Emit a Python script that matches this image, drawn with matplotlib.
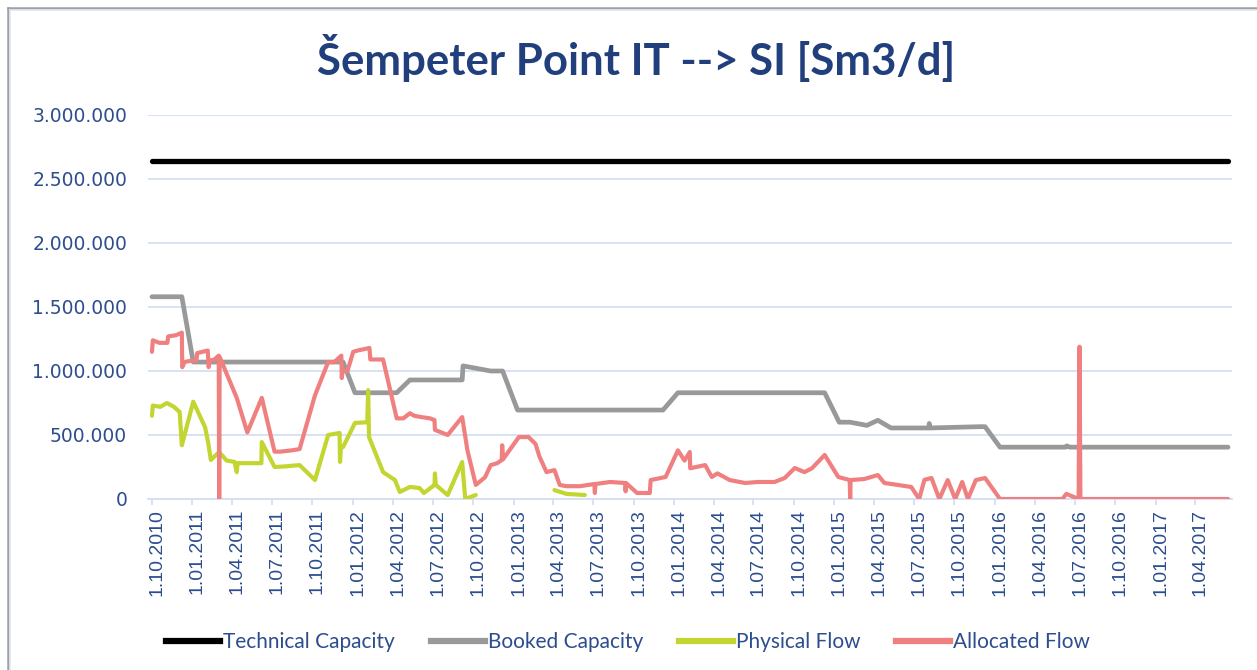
import numpy as np
import pandas as pd
import matplotlib
matplotlib.use("Agg")
import matplotlib.pyplot as plt
import matplotlib.dates as mdates
import matplotlib.transforms as mtransforms
from matplotlib.ticker import FuncFormatter, MultipleLocator
from matplotlib.lines import Line2D

# values in thousand Sm3/d
tech_dates = ["2010-10-01", "2017-06-15"]
tech_vals = [2640, 2640]

booked_dates = ["2010-10-01", "2010-12-08", "2011-01-03", "2011-12-10", "2012-01-06",
                "2012-04-10", "2012-05-10", "2012-09-06", "2012-09-08", "2012-11-10",
                "2012-12-07", "2013-01-10", "2013-12-07", "2014-01-10", "2014-12-10",
                "2015-01-12", "2015-02-06", "2015-03-16", "2015-04-10", "2015-05-10",
                "2015-08-04", "2015-08-05", "2015-08-06", "2015-11-28", "2015-12-10",
                "2016-01-13", "2016-06-10", "2016-06-13", "2016-06-20", "2017-06-15"]
booked_vals = [1580, 1580, 1070, 1070, 830,
               830, 930, 930, 1040, 1000,
               1000, 695, 695, 830, 830,
               600, 600, 575, 615, 555,
               555, 590, 555, 565, 565,
               405, 405, 415, 405, 405]

phys_dates = ["2010-10-01", "2010-10-03", "2010-10-20", "2010-11-04", "2010-11-20",
              "2010-12-03", "2010-12-08", "2011-01-03", "2011-01-30", "2011-02-06",
              "2011-02-12", "2011-03-03", "2011-03-20", "2011-04-07", "2011-04-12",
              "2011-04-14", "2011-05-06", "2011-06-07", "2011-06-08", "2011-07-07",
              "2011-08-01", "2011-09-02", "2011-10-07", "2011-11-06", "2011-12-02",
              "2011-12-03", "2011-12-05", "2011-12-10", "2012-01-06", "2012-02-03",
              "2012-02-05", "2012-02-07", "2012-03-10", "2012-04-06", "2012-04-17",
              "2012-05-10", "2012-06-01", "2012-06-11", "2012-07-05", "2012-07-06",
              "2012-07-08", "2012-08-04", "2012-09-06", "2012-09-13", "2012-10-07",
              "2012-10-08", "2013-04-04", "2013-05-01", "2013-06-12"]
phys_vals = [650, 730, 720, 750, 720,
             680, 420, 760, 560, 440,
             305, 367, 300, 290, 210,
             280, 280, 280, 445, 250,
             255, 265, 148, 500, 516,
             290, 406, 406, 594, 600,
             850, 484, 210, 148, 55,
             94, 86, 47, 110, 200,
             110, 31, 289, 0, 31,
             np.nan, 70, 40, 31]

alloc_dates = ["2010-10-01", "2010-10-03", "2010-10-18", "2010-11-05", "2010-11-07",
               "2010-11-25", "2010-12-08", "2010-12-09", "2010-12-14", "2010-12-28",
               "2011-01-10", "2011-01-12", "2011-02-05", "2011-02-07", "2011-02-10",
               "2011-02-20", "2011-03-02", "2011-03-03", "2011-03-04", "2011-04-12",
               "2011-05-06", "2011-06-08", "2011-07-07", "2011-07-20", "2011-08-15",
               "2011-09-02", "2011-10-07", "2011-11-06", "2011-11-20", "2011-12-06",
               "2011-12-07", "2011-12-09", "2011-12-20", "2012-01-02", "2012-01-12",
               "2012-02-08", "2012-02-10", "2012-03-10", "2012-04-10", "2012-04-25",
               "2012-05-10", "2012-05-20", "2012-06-05", "2012-06-25", "2012-07-05",
               "2012-07-06", "2012-08-04", "2012-09-06", "2012-09-18", "2012-10-07",
               "2012-10-28", "2012-11-10", "2012-11-25", "2012-12-05", "2012-12-06",
               "2012-12-08", "2013-01-13", "2013-02-04", "2013-02-20", "2013-03-01",
               "2013-03-17", "2013-04-04", "2013-04-16", "2013-05-01", "2013-06-01",
               "2013-06-20", "2013-07-04", "2013-07-05", "2013-07-06", "2013-08-09",
               "2013-09-12", "2013-09-13", "2013-09-14", "2013-10-09", "2013-11-07",
               "2013-11-09", "2013-12-13", "2014-01-10", "2014-01-25", "2014-02-06",
               "2014-02-07", "2014-03-13", "2014-03-28", "2014-04-10", "2014-05-08",
               "2014-06-12", "2014-07-11", "2014-08-18", "2014-09-10", "2014-10-03",
               "2014-10-25", "2014-11-11", "2014-12-10", "2015-01-10", "2015-02-05",
               "2015-02-06", "2015-02-07", "2015-03-10", "2015-04-10", "2015-04-25",
               "2015-05-25", "2015-06-25", "2015-07-13", "2015-07-25", "2015-08-10",
               "2015-08-28", "2015-09-16", "2015-10-03", "2015-10-19", "2015-11-01",
               "2015-11-19", "2015-12-10", "2016-01-13", "2016-06-03", "2016-06-12",
               "2016-07-10", "2016-07-12", "2016-07-14", "2017-06-15"]
alloc_vals = [1150, 1240, 1220, 1220, 1270,
              1280, 1300, 1030, 1070, 1080,
              1080, 1140, 1160, 1030, 1080,
              1090, 1120, 0, 1110, 790,
              520, 790, 370, 370, 380,
              390, 810, 1070, 1070, 1120,
              945, 1000, 1000, 1150, 1160,
              1180, 1090, 1090, 630, 630,
              670, 650, 640, 630, 617,
              540, 500, 640, 380, 110,
              170, 265, 280, 305, 420,
              310, 484, 484, 430, 330,
              210, 226, 110, 100, 100,
              110, 117, 47, 117, 133,
              125, 60, 125, 47, 47,
              148, 172, 380, 300, 367,
              240, 265, 172, 200, 148,
              125, 133, 133, 164, 242,
              210, 240, 344, 172, 148,
              0, 148, 156, 187, 125,
              110, 94, 0, 150, 164,
              0, 148, 0, 133, 0,
              148, 164, 0, 0, 40,
              0, 1190, 0, 0]

series_names = ["Technical Capacity", "Booked Capacity", "Physical Flow", "Allocated Flow"]
series_colors = ["#000000", "#999999", "#c3d531", "#f08080"]
series_lw = [3.8, 3.4, 3.0, 3.0]

TXT = "#2c4d8e"
GRID = "#d3dff3"

fig = plt.figure(figsize=(12.57, 6.70), dpi=100)
ax = fig.add_axes([148 / 1257, 1 - 499 / 670, (1232 - 148) / 1257, (499 - 115) / 670])

all_data = [(tech_dates, tech_vals), (booked_dates, booked_vals),
            (phys_dates, phys_vals), (alloc_dates, alloc_vals)]
for (d, v), name, col, lw in zip(all_data, series_names, series_colors, series_lw):
    ax.plot(pd.to_datetime(d), np.array(v, dtype=float) * 1000, color=col, lw=lw,
            label=name, solid_joinstyle="round", solid_capstyle="round", zorder=3)

ax.set_ylim(0, 3_000_000)
ax.yaxis.set_major_locator(MultipleLocator(500_000))
ax.yaxis.set_major_formatter(FuncFormatter(lambda v, p: f"{int(v):,}".replace(",", ".")))
ax.grid(axis="y", color=GRID, lw=1.3, zorder=0)
ax.set_axisbelow(True)

ax.set_xlim(pd.Timestamp("2010-09-22"), pd.Timestamp("2017-06-24"))
ax.xaxis.set_major_locator(mdates.MonthLocator(bymonth=[1, 4, 7, 10], bymonthday=1))
ax.xaxis.set_major_formatter(FuncFormatter(
    lambda v, p: (lambda d: f"{d.day}.{d.month:02d}.{d.year}")(mdates.num2date(v))))

for s in ["top", "right", "left"]:
    ax.spines[s].set_visible(False)
ax.spines["bottom"].set_color(GRID)
ax.spines["bottom"].set_linewidth(1.3)
ax.tick_params(axis="y", length=0, pad=15, labelsize=13.5, labelcolor=TXT)
ax.tick_params(axis="x", length=4, width=1.3, color=GRID, pad=3, labelsize=14,
               labelcolor=TXT, labelrotation=90)
shift = mtransforms.ScaledTranslation(5 / 100, 0, fig.dpi_scale_trans)
for lab in ax.get_xticklabels():
    lab.set_family("Liberation Sans")
    lab.set_transform(lab.get_transform() + shift)
for lab in ax.get_yticklabels():
    lab.set_family("DejaVu Sans")

fig.text(636 / 1257, 1 - 58 / 670, "Šempeter Point IT --> SI [Sm3/d]", ha="center",
         va="center", fontsize=31.5, fontweight="bold", color="#203f7c", family="Lato")

handles = [Line2D([0], [0], color=c, lw=4.5) for c in series_colors]
leg = fig.legend(handles, series_names, loc="center", bbox_to_anchor=(628 / 1257, 1 - 642 / 670),
                 ncol=4, frameon=False, handlelength=2.6, handletextpad=0.15,
                 columnspacing=1.7, prop={"family": "Lato", "size": 15})
for t in leg.get_texts():
    t.set_color(TXT)

# outer chart frame (top and left edges visible in the screenshot)
fx, fy = 8 / 1257, 1 - 8 / 670
fig.add_artist(Line2D([fx, fx], [0, fy], transform=fig.transFigure, color="#a0a0a0", lw=1.8))
fig.add_artist(Line2D([fx, 1], [fy, fy], transform=fig.transFigure, color="#a0a0a0", lw=1.8))
fig.add_artist(Line2D([fx + 2 / 1257, fx + 2 / 1257], [0, fy - 2 / 670], transform=fig.transFigure,
                      color="#dce6f5", lw=1.2))
fig.add_artist(Line2D([fx + 2 / 1257, 1], [fy - 2 / 670, fy - 2 / 670], transform=fig.transFigure,
                      color="#dce6f5", lw=1.2))

fig.savefig("out.png", dpi=100)
